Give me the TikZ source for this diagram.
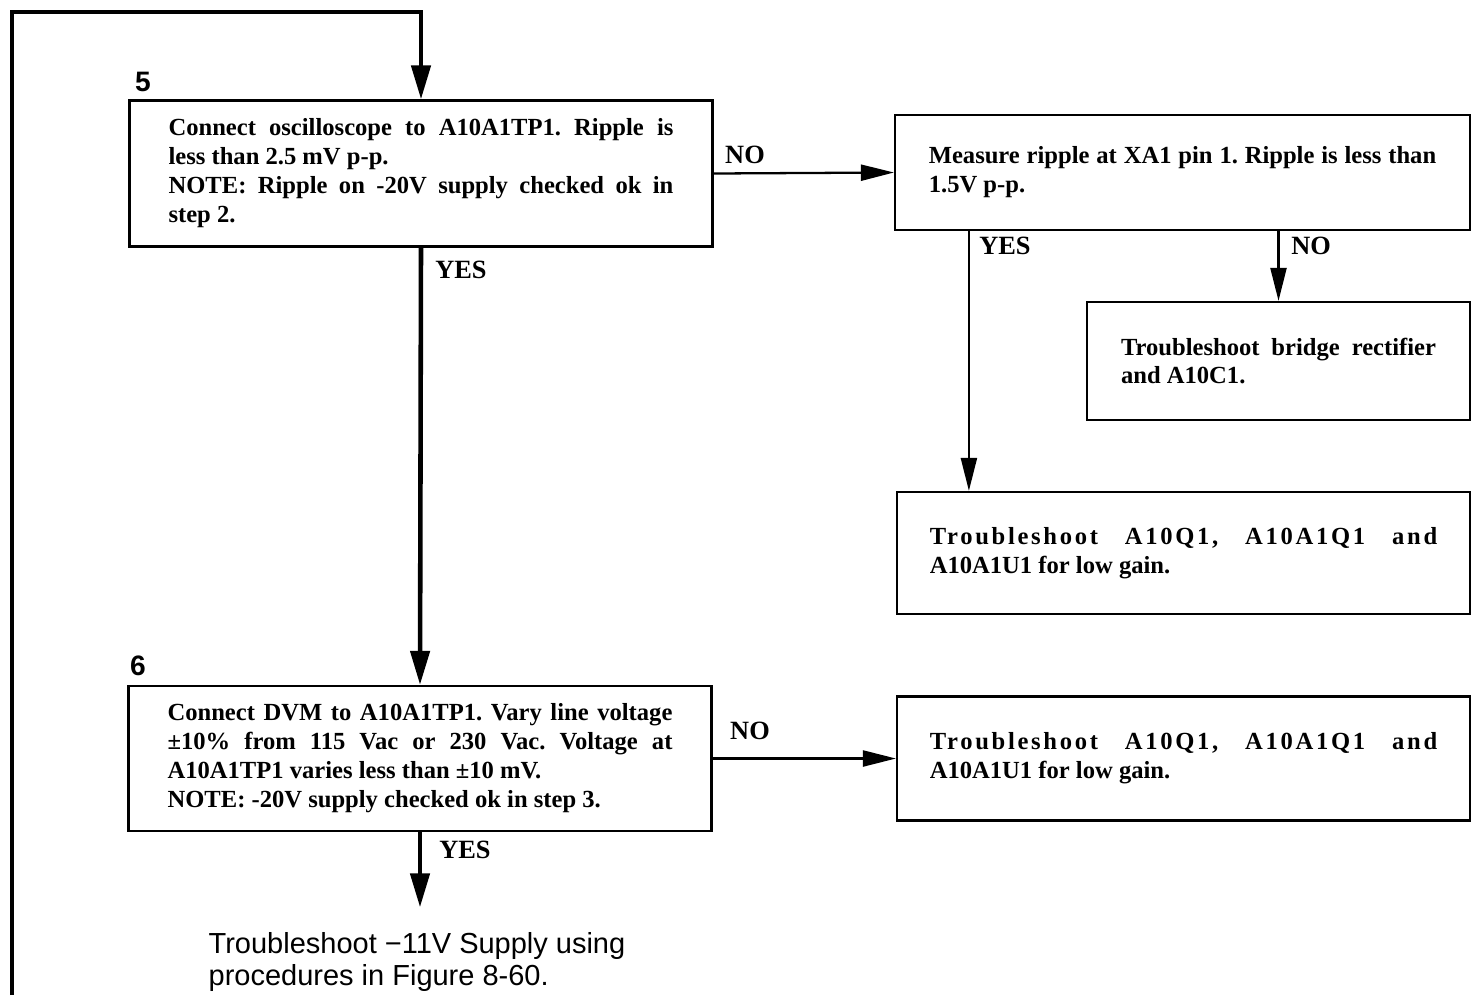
\documentclass[tikz,border=0pt]{standalone}
\usepackage{fontspec}
\setmainfont{Liberation Serif}
\setsansfont{Liberation Sans}
\usetikzlibrary{arrows.meta}
\frenchspacing

\begin{document}
\begin{tikzpicture}[
  x=0.02cm, y=-0.02cm,
  box/.style={rectangle,draw,line width=1.3pt,inner xsep=0pt,inner ysep=0pt,align=justify,
    font=\fontsize{14}{16.5}\selectfont\bfseries},
  check/.style={box,minimum width=11.66cm,minimum height=2.92cm,text width=10.1cm},
  action/.style={box,minimum width=11.46cm,text width=10.15cm},
  flow/.style={-{Triangle[length=.68cm,width=.38cm]},line width=2.6pt},
  edge/.style={-{Triangle[length=.66cm,width=.32cm]},line width=1.3pt},
  label/.style={inner sep=0pt,font=\fontsize{15}{17}\selectfont\bfseries},
  num/.style={inner sep=0pt,font=\sffamily\bfseries\fontsize{16}{18}\selectfont}
]
\useasboundingbox (0,0) rectangle (1480,995);
% Thick arrows carry the main check sequence, thin ones the side branches.
% The loop on the left comes back in from the preceding page.
\node[check] (ripple) at (421,173.5) {Connect oscilloscope to A10A1TP1. Ripple is\linebreak
  less than 2.5 mV p-p.\newline
  NOTE: Ripple on -20V supply checked ok in\linebreak step 2.};
\node[num] at (143,82) {5};
\node[action,minimum width=11.5cm,minimum height=2.3cm] (xa1) at (1182.5,172.5) {Measure ripple at XA1 pin 1. Ripple is less than\linebreak 1.5V p-p.};
\node[box,minimum width=7.66cm,minimum height=2.36cm,text width=6.3cm] (bridge) at (1278.5,361) {Troubleshoot bridge rectifier\linebreak and A10C1.};
\node[action,minimum height=2.44cm] (gaina) at (1183.5,553) {{\addfontfeatures{LetterSpace=11}Troubleshoot A10Q1, A10A1Q1 and}\linebreak A10A1U1 for low gain.};
\node[check,minimum height=2.9cm] (line) at (420,758.5) {Connect DVM to A10A1TP1. Vary line voltage\linebreak
  ±10\% from 115 Vac or 230 Vac. Voltage at\linebreak
  A10A1TP1 varies less than ±10 mV.\newline
  NOTE: -20V supply checked ok in step 3.};
\node[num] at (138,666) {6};
\node[action,minimum height=2.48cm] (gainb) at (1183.5,758.5) {{\addfontfeatures{LetterSpace=11}Troubleshoot A10Q1, A10A1Q1 and}\linebreak A10A1U1 for low gain.};
\node[align=left,inner sep=0pt,font=\sffamily\fontsize{16.5}{18}\selectfont] (next) at (417,962) {Troubleshoot −11V Supply using\\procedures in Figure 8-60.};
\coordinate (back) at (12,995);

\draw[flow] (back) -- (12,12) -| (ripple.north);
\draw[flow] (ripple.south) -- (line.north);
\node[label] at (461,270) {YES};
\draw[edge] (ripple.east) -- (xa1.west);
\node[label] at (745,155) {NO};
\draw[edge] ([xshift=1.5cm]xa1.south west) -- ([xshift=1.5cm]xa1.south west |- gaina.north);
\node[label] at (1005,246) {YES};
\draw[edge] (bridge.north |- xa1.south) -- (bridge.north);
\node[label] at (1311,246) {NO};
\draw[edge] (line.east) -- (gainb.west);
\node[label] at (750,731) {NO};
\draw[flow] (line.south) -- (line.south |- next.north) [shorten >=.5cm];
\node[label] at (465,850) {YES};
\end{tikzpicture}
\end{document}
